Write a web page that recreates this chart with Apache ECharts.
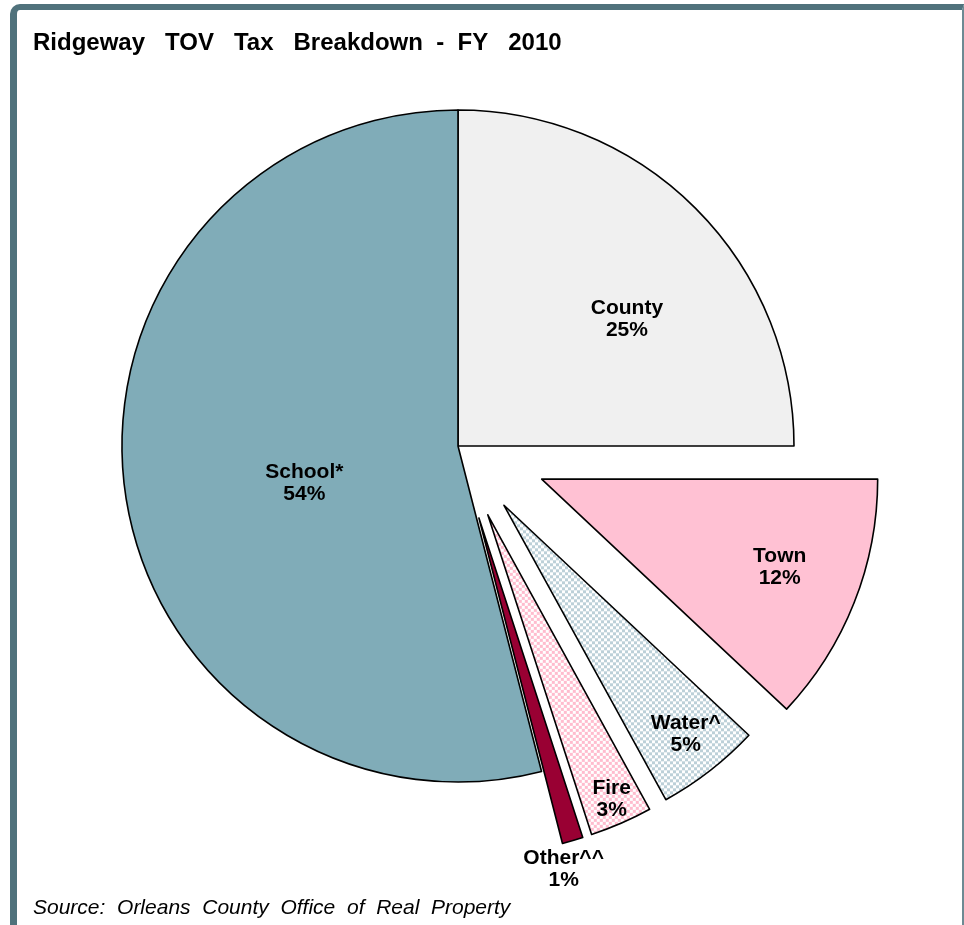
<!DOCTYPE html>
<html>
<head>
<meta charset="utf-8">
<script src="https://cdn.jsdelivr.net/npm/echarts@6/dist/echarts.min.js"></script>
<style>
  html, body { margin: 0; padding: 0; background: #fff; }
  #chart { position: absolute; left: 0; top: 0; width: 964px; height: 925px; }
  #frame {
    position: absolute; left: 10px; top: 4px; width: 945px; height: 1000px;
    border-left: 7px solid #50727c; border-top: 6px solid #50727c; border-right: 2px solid #6d8a93;
    border-top-left-radius: 10px; pointer-events: none;
  }
</style>
</head>
<body>
<div id="chart"></div>
<div id="frame"></div>
<script>
// 数据
const categories = ["County", "Town", "Water^", "Fire", "Other^^", "School*"];
const shares = [25, 12, 5, 3, 1, 54];
const exploded = [false, true, true, true, true, false];

// 样式
const fillColors = ["#f0f0f0", "#ffc1d3", null, null, "#990033", "#80acb8"];
// label shift from the default inside spot (px)
const labelShift = [[48, -6], [79, 25], [77, 94], [56, 127], [37, 187], [16, 16]];

function checker(color) {
  const c = document.createElement("canvas");
  c.width = 6;
  c.height = 6;
  const g = c.getContext("2d");
  g.fillStyle = "#ffffff";
  g.fillRect(0, 0, 6, 6);
  g.fillStyle = color;
  g.fillRect(0, 0, 3, 3);
  g.fillRect(3, 3, 3, 3);
  return { image: c, repeat: "repeat" };
}
fillColors[2] = checker("#bcd0d8");
fillColors[3] = checker("#ffbcce");

const chart = echarts.init(document.getElementById("chart"));

const hidden = { color: "transparent", borderWidth: 0 };

function buildData(onlyTown) {
  return categories.map((name, i) => {
    const isTown = i === 1;
    const visible = onlyTown ? isTown : !isTown;
    return {
      name: name,
      value: shares[i],
      selected: visible && exploded[i],
      itemStyle: visible
        ? { color: fillColors[i], borderColor: "#000", borderWidth: 1.6 }
        : hidden,
      label: { show: visible }
    };
  });
}

const baseSeries = {
  type: "pie",
  center: [458, 446],
  radius: [0, 336],
  startAngle: 90,
  clockwise: true,
  selectedMode: "multiple",
  animation: false,
  emphasis: { disabled: true },
  label: {
    position: "inside",
    formatter: "{b}\n{c}%",
    color: "#000",
    fontFamily: "Liberation Sans, Arial, sans-serif",
    fontWeight: "bold",
    fontSize: 21,
    lineHeight: 22
  },
  labelLine: { show: false },
  labelLayout: function (p) {
    const s = labelShift[p.dataIndex];
    return { dx: s[0], dy: s[1] };
  }
};

const option = {
  backgroundColor: "#fff",
  title: [
    {
      text: "Ridgeway   TOV   Tax   Breakdown  -  FY   2010",
      left: 33,
      top: 31,
      padding: 0,
      textStyle: {
        fontFamily: "Liberation Sans, Arial, sans-serif",
        fontWeight: "bold",
        fontSize: 24,
        color: "#000"
      }
    },
    {
      text: "Source:  Orleans  County  Office  of  Real  Property",
      left: 33,
      top: 898,
      padding: 0,
      textStyle: {
        fontFamily: "Liberation Sans, Arial, sans-serif",
        fontStyle: "italic",
        fontWeight: "normal",
        fontSize: 21,
        color: "#000"
      }
    }
  ],
  series: [
    Object.assign({}, baseSeries, { name: "main", selectedOffset: 75, data: buildData(false) }),
    Object.assign({}, baseSeries, { name: "town", selectedOffset: 90, silent: true, data: buildData(true) })
  ]
};

chart.setOption(option);
</script>
</body>
</html>
